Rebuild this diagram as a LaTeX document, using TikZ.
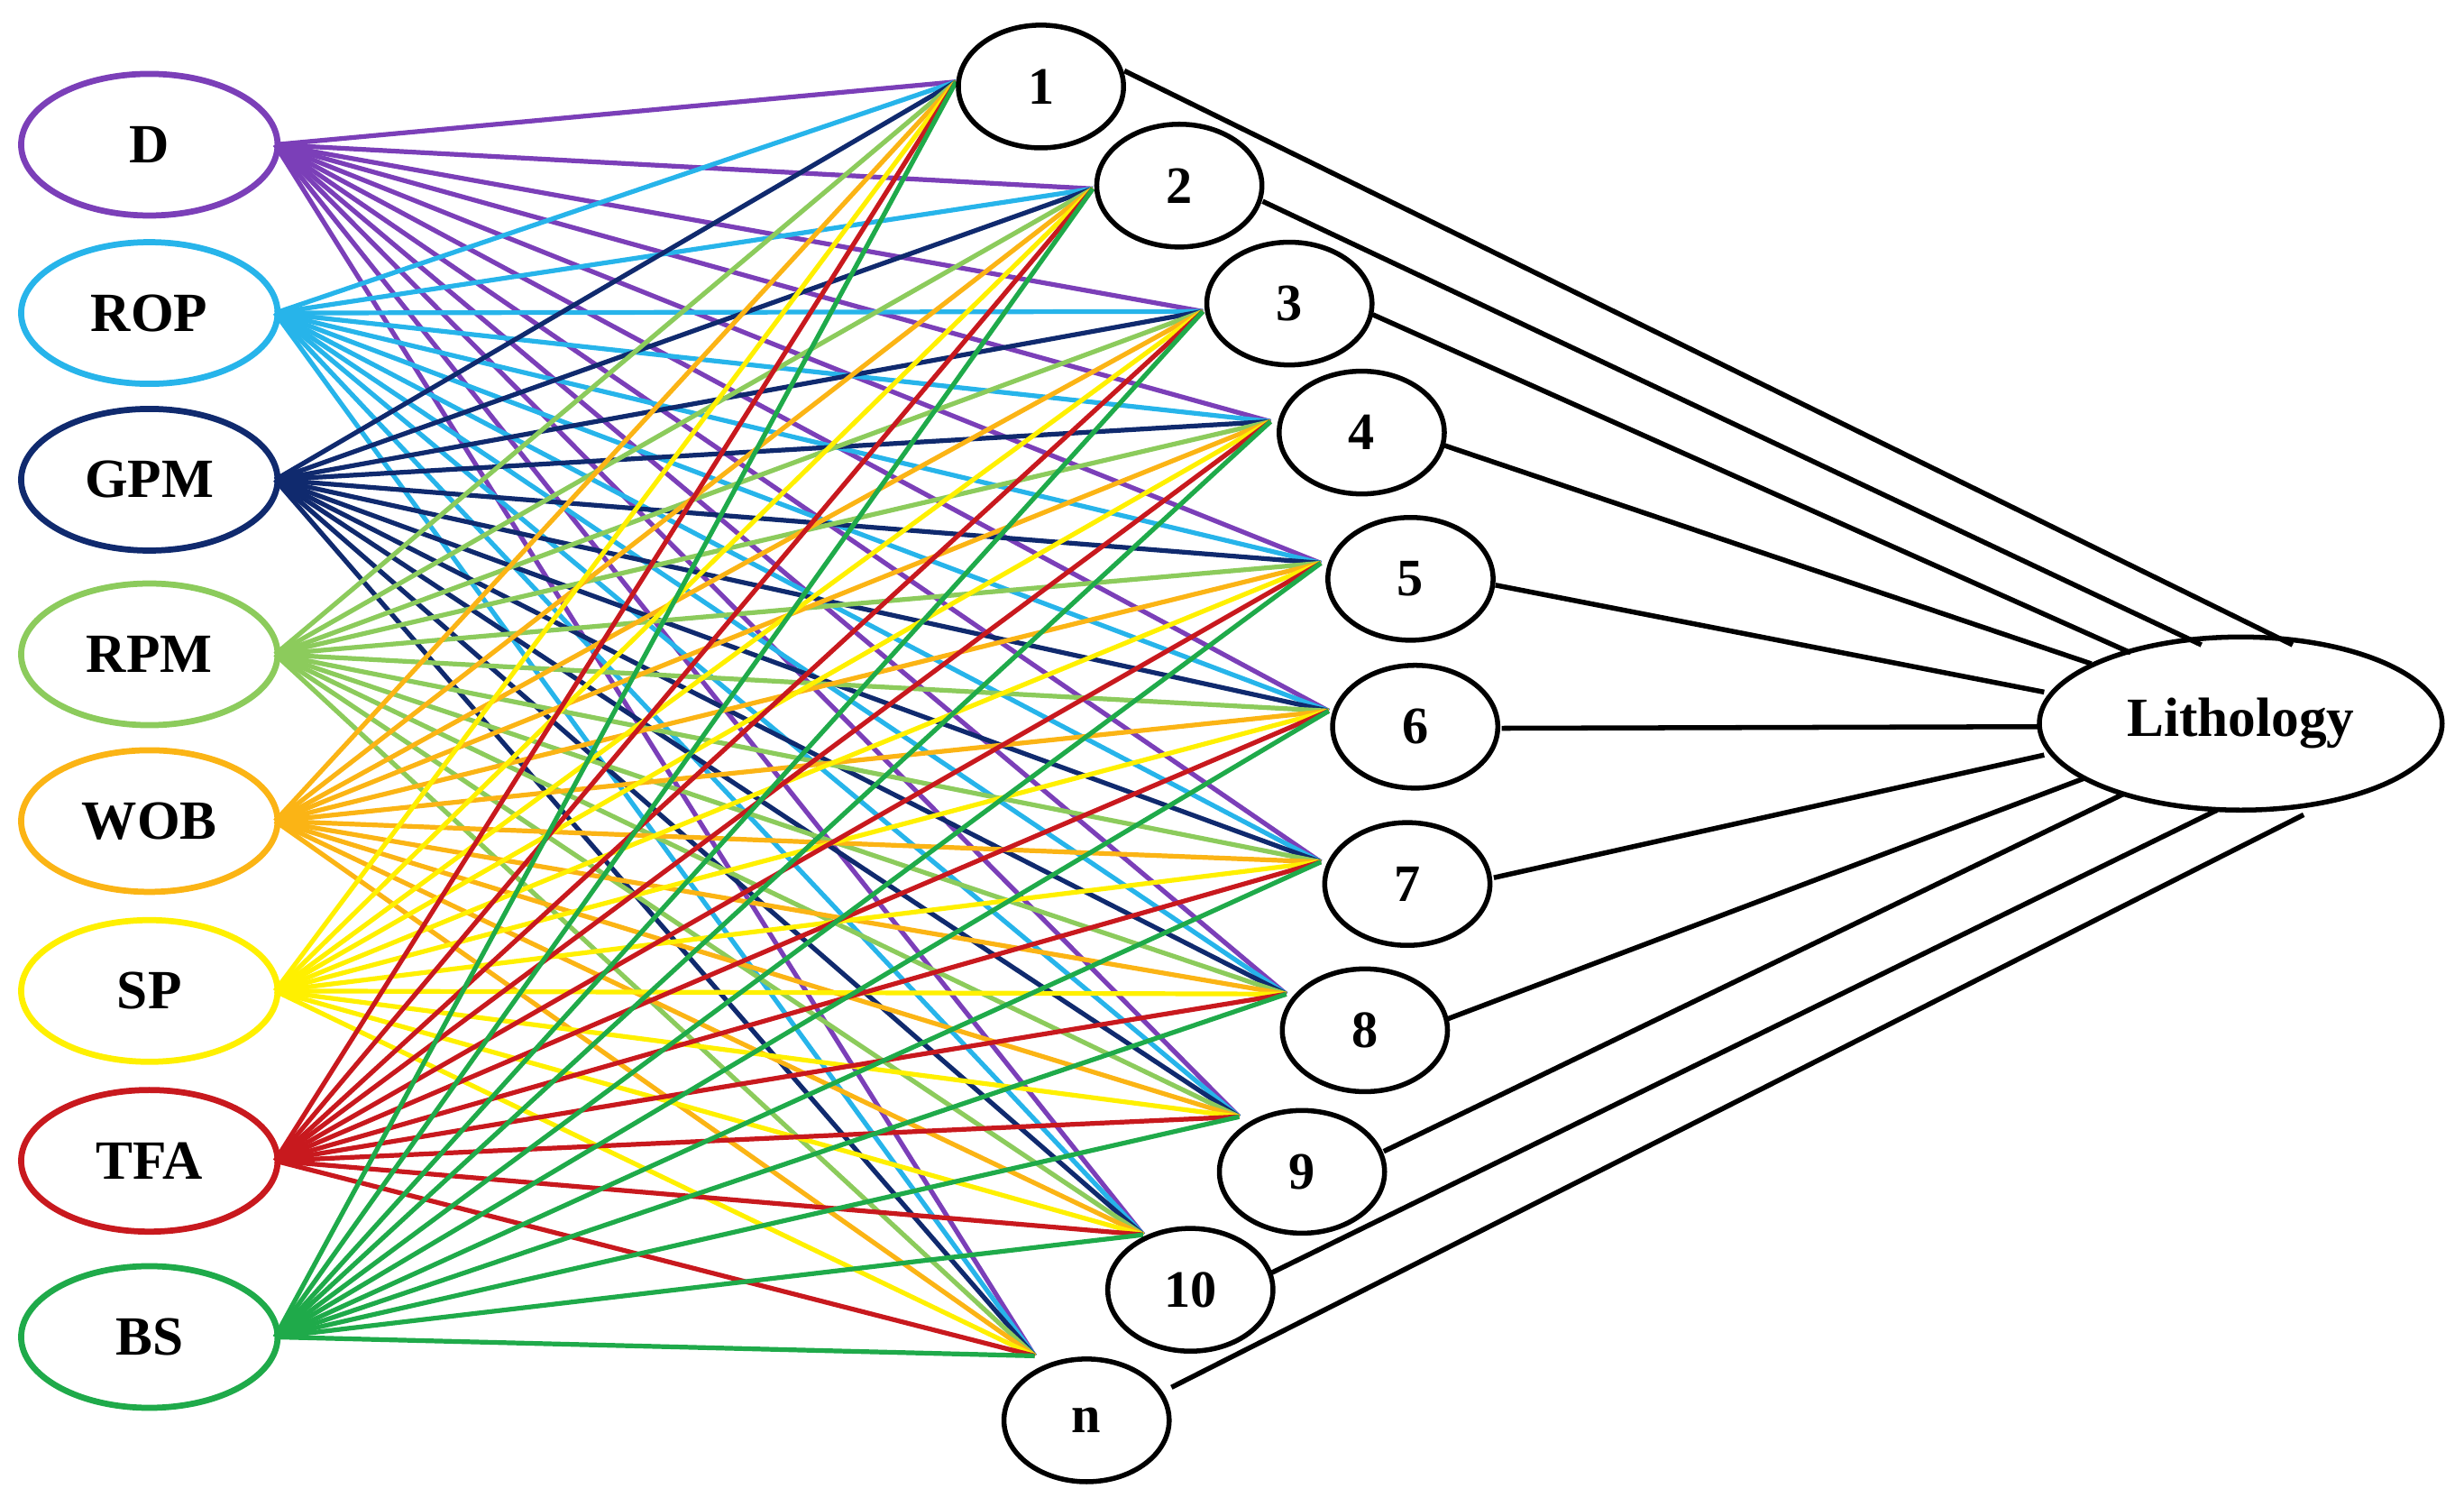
\documentclass[tikz,border=0pt]{standalone}
\usepackage{fontspec}
\setmainfont{Liberation Serif}
\usetikzlibrary{shapes.geometric}
\begin{document}
\begin{tikzpicture}[x=0.01cm,y=-0.01cm,
  inp/.style={draw,ellipse,line width=1.1pt,minimum width=1.63cm,minimum height=0.9cm,font=\fontsize{10}{12}\selectfont\bfseries},
  hid/.style={draw,ellipse,line width=0.9pt,minimum width=1.05cm,minimum height=0.78cm,font=\fontsize{9.5}{11}\selectfont\bfseries},
  lk/.style={line width=0.85pt},
  blk/.style={line width=0.9pt,black}]
\useasboundingbox (0,0) rectangle (1567,958);
\definecolor{cD}{HTML}{7B3FB8}
\definecolor{cROP}{HTML}{27B4EA}
\definecolor{cGPM}{HTML}{102A6E}
\definecolor{cRPM}{HTML}{8CCB5C}
\definecolor{cWOB}{HTML}{FBB415}
\definecolor{cSP}{HTML}{FFF000}
\definecolor{cTFA}{HTML}{C8191E}
\definecolor{cBS}{HTML}{1FAA4A}
\foreach \n/\y/\c in {D/92/cD,ROP/199/cROP,GPM/305/cGPM,RPM/416/cRPM,WOB/522/cWOB,SP/630/cSP,TFA/738/cTFA,BS/850/cBS}
  {\node[inp,draw=\c] (\n) at (95,\y) {\n};
   \coordinate (\n o) at (175,\y);}
\foreach \n/\cx/\cy in {h1/608/52,h2/695/120,h3/765/198,h4/808/268,h5/840/358,h6/845/452,h7/840/548,h8/818/632,h9/788/710,h10/727/785,hn/658/862}
  {\coordinate (\n c) at (\cx,\cy);}
\foreach \n/\c in {D/cD,ROP/cROP,GPM/cGPM,RPM/cRPM,WOB/cWOB,SP/cSP,TFA/cTFA,BS/cBS}
  \foreach \h in {h1,h2,h3,h4,h5,h6,h7,h8,h9,h10,hn}
    \draw[lk,\c] (\n o) -- (\h c);
\foreach \n/\t/\x/\y in {h1/1/662/55,h2/2/750/118,h3/3/820/193,h4/4/866/275,h5/5/897/368,h6/6/900/462,h7/7/895/562,h8/8/868/655,h9/9/828/745,h10/10/757/820,hn/n/691/903}
  \node[hid,fill=white] (\n) at (\x,\y) {\t};
\node[draw,ellipse,line width=0.9pt,minimum width=2.56cm,minimum height=1.1cm,font=\fontsize{10}{12}\selectfont\bfseries] (L) at (1425,460) {Lithology};
\foreach \h/\sx/\sy/\tx/\ty in {h1/715/45/1458/410,h2/803/128/1400/410,h3/873/200/1355/415,h4/918/283/1330/422,h5/951/372/1300/440,h6/955/463/1297/462,h7/950/558/1300/480,h8/920/648/1325/495,h9/880/732/1350/505,h10/807/810/1410/515,hn/745/882/1465/518}
  {\coordinate (\h s) at (\sx,\sy);
   \coordinate (\h t) at (\tx,\ty);
   \draw[blk] (\h s) -- (\h t);}
\end{tikzpicture}
\end{document}
